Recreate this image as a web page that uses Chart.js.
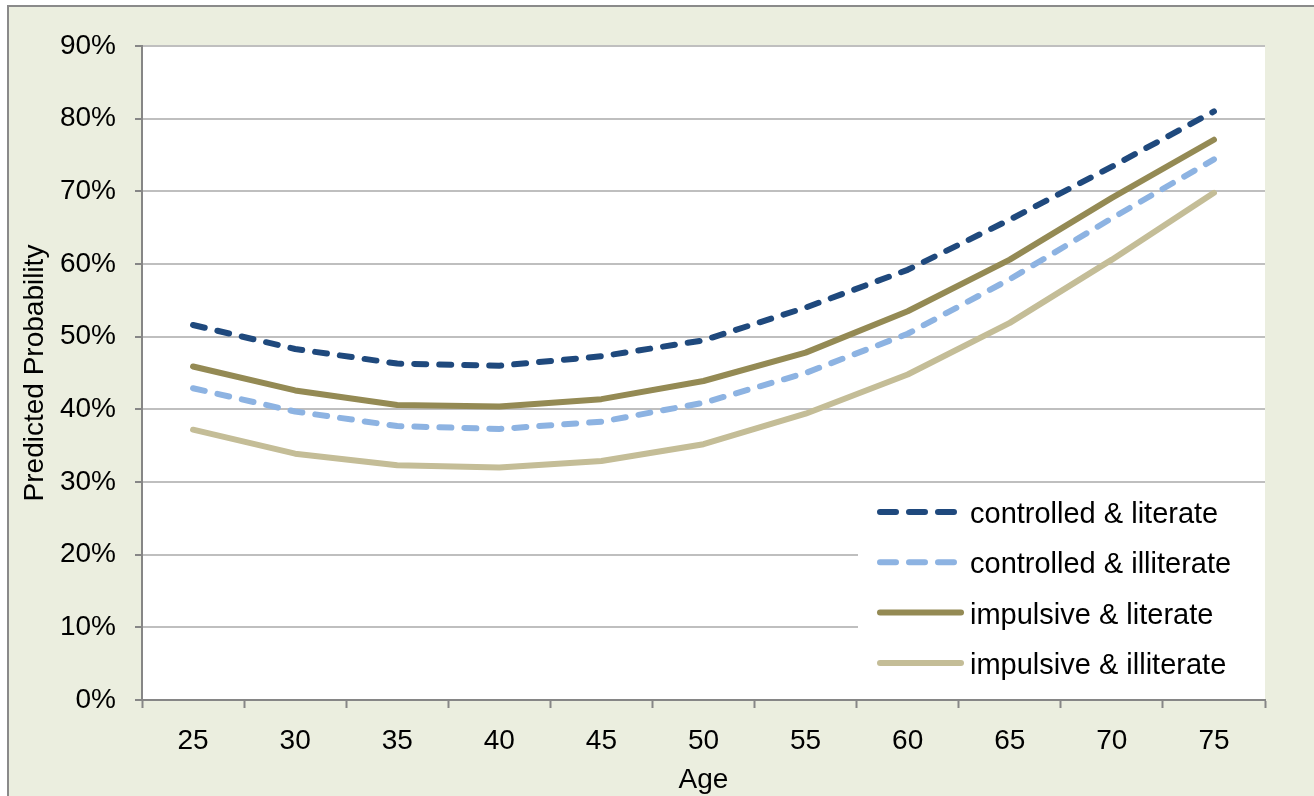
<!DOCTYPE html>
<html>
<head>
<meta charset="utf-8">
<script src="https://cdn.jsdelivr.net/npm/chart.js@4/dist/chart.umd.min.js"></script>
<style>
  html, body { margin: 0; padding: 0; background: #ffffff; }
  #wrap { position: absolute; left: 0; top: 0; width: 1314px; height: 796px; }
</style>
</head>
<body>
<div id="wrap"><canvas id="c" width="1314" height="796"></canvas></div>
<script>
const ages = ['25', '30', '35', '40', '45', '50', '55', '60', '65', '70', '75'];
const seriesNames = ['controlled & literate', 'controlled & illiterate', 'impulsive & literate', 'impulsive & illiterate'];
const controlledLiterate   = [51.6, 48.3, 46.3, 46.0, 47.3, 49.5, 54.0, 59.2, 66.1, 73.4, 81.0];
const controlledIlliterate = [42.9, 39.7, 37.7, 37.3, 38.3, 40.9, 45.0, 50.4, 57.9, 66.3, 74.4];
const impulsiveLiterate    = [45.9, 42.6, 40.6, 40.4, 41.4, 43.9, 47.8, 53.5, 60.6, 69.1, 77.1];
const impulsiveIlliterate  = [37.2, 33.9, 32.3, 32.0, 32.9, 35.2, 39.4, 44.8, 51.9, 60.6, 69.8];
const yTicks = [0, 10, 20, 30, 40, 50, 60, 70, 80, 90];

const FONT = 'Liberation Sans, Arial, sans-serif';

const frame = {
  id: 'frame',
  beforeDraw(chart) {
    const ctx = chart.ctx;
    const a = chart.chartArea;
    ctx.save();
    ctx.fillStyle = '#ffffff';
    ctx.fillRect(0, 0, chart.width, chart.height);
    ctx.fillStyle = '#EBEEDF';
    ctx.fillRect(8, 6, chart.width, chart.height);
    ctx.strokeStyle = '#8a8a8a';
    ctx.lineWidth = 2;
    ctx.beginPath();
    ctx.moveTo(8, chart.height + 5);
    ctx.lineTo(8, 6);
    ctx.lineTo(chart.width + 5, 6);
    ctx.stroke();
    ctx.fillStyle = '#ffffff';
    ctx.fillRect(a.left, a.top, a.right - a.left, a.bottom - a.top);
    ctx.restore();
  }
};

const legendBox = {
  id: 'legendBox',
  afterDraw(chart) {
    const ctx = chart.ctx;
    const a = chart.chartArea;
    const x0 = 877;
    const y0 = 512;
    const rowH = 50.3;
    ctx.save();
    ctx.fillStyle = '#ffffff';
    ctx.fillRect(858, 484, a.right - 858, 211);
    chart.data.datasets.forEach((ds, i) => {
      const y = y0 + i * rowH;
      const dashed = ds.borderDash && ds.borderDash.length;
      ctx.strokeStyle = ds.borderColor;
      ctx.lineWidth = ds.borderWidth;
      ctx.lineCap = 'round';
      ctx.setLineDash(dashed ? [16, 13] : []);
      ctx.beginPath();
      ctx.moveTo(x0 + 3, y);
      ctx.lineTo(dashed ? x0 + 80 : x0 + 84, y);
      ctx.stroke();
      ctx.setLineDash([]);
      ctx.fillStyle = '#000000';
      ctx.font = '29px ' + FONT;
      ctx.textBaseline = 'middle';
      ctx.textAlign = 'left';
      ctx.fillText(ds.label, 970, y + 3);
    });
    ctx.restore();
  }
};

const mk = (label, data, color, dashed) => ({
  label, data,
  borderColor: color,
  backgroundColor: color,
  borderWidth: 6,
  borderDash: dashed ? [12, 13] : [],
  borderCapStyle: 'round',
  borderJoinStyle: 'round',
  pointRadius: 0,
  pointHoverRadius: 0,
  tension: 0,
  fill: false
});

new Chart(document.getElementById('c'), {
  type: 'line',
  data: {
    labels: ages,
    datasets: [
      mk(seriesNames[0], controlledLiterate, '#1F497D', true),
      mk(seriesNames[1], controlledIlliterate, '#8DB3E2', true),
      mk(seriesNames[2], impulsiveLiterate, '#948A54', false),
      mk(seriesNames[3], impulsiveIlliterate, '#C4BD97', false)
    ]
  },
  options: {
    responsive: false,
    animation: false,
    devicePixelRatio: 1,
    layout: { padding: { left: 0, top: 46, right: 49, bottom: 0 } },
    plugins: {
      legend: { display: false },
      tooltip: { enabled: false },
      title: { display: false }
    },
    scales: {
      x: {
        type: 'category',
        offset: true,
        grid: {
          offset: true,
          drawOnChartArea: false,
          drawTicks: true,
          tickLength: 8,
          tickColor: '#868686',
          tickWidth: 2
        },
        border: { display: true, color: '#868686', width: 2 },
        ticks: {
          color: '#000000',
          font: { family: FONT, size: 28 },
          padding: 16,
          maxRotation: 0,
          autoSkip: false
        },
        title: {
          display: true,
          text: 'Age',
          color: '#000000',
          font: { family: FONT, size: 28 },
          padding: { top: 0, bottom: -1 }
        },
        afterFit(scale) { scale.height = 96; }
      },
      y: {
        min: 0,
        max: 90,
        afterBuildTicks(scale) { scale.ticks = yTicks.map(v => ({ value: v })); },
        grid: {
          color: '#BFBFBF',
          lineWidth: 2,
          drawTicks: true,
          tickLength: 7,
          tickColor: '#868686',
          tickWidth: 2
        },
        border: { display: true, color: '#868686', width: 2 },
        ticks: {
          color: '#000000',
          font: { family: FONT, size: 28 },
          padding: 19,
          callback: v => v + '%'
        },
        title: {
          display: true,
          text: 'Predicted Probability',
          color: '#000000',
          font: { family: FONT, size: 28 },
          padding: { top: 18, bottom: 0 }
        },
        afterFit(scale) { scale.width = 142; }
      }
    }
  },
  plugins: [frame, legendBox]
});
</script>
</body>
</html>
